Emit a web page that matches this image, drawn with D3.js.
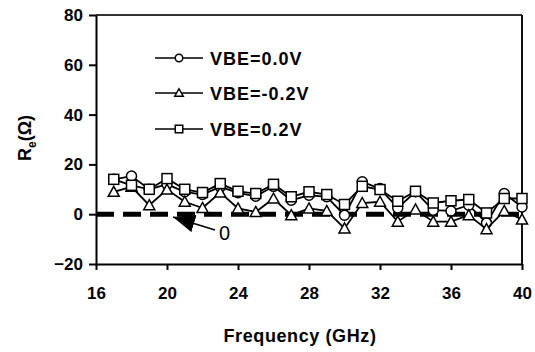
<!DOCTYPE html>
<html>
<head>
<meta charset="utf-8">
<script src="https://cdn.jsdelivr.net/npm/d3@7"></script>
<style>
  body { margin: 0; background: #fff; }
  svg text { font-family: Arial, "Liberation Sans", sans-serif; }
</style>
</head>
<body>
<svg id="chart" width="535" height="352"></svg>
<script>
// frequency points (GHz)
var freq = [17, 18, 19, 20, 21, 22, 23, 24, 25, 26, 27, 28, 29, 30, 31, 32, 33, 34, 35, 36, 37, 38, 39, 40];
// Re (ohm) per bias
var vbe00 = [14, 15.3, 10, 12, 9, 7.9, 11, 8.6, 7.2, 11.2, 5.6, 7.6, 7, -0.4, 13, 10.3, 2.5, 9, 1.6, 1.3, 3.6, -3.5, 8.3, 2.9];
var vbeM02 = [9, 11, 3.6, 9.9, 5, 2.5, 8.7, 2.3, 0.9, 6.3, -0.4, 2.3, 1.3, -5.7, 4.5, 5, -3, 1.9, -3, -3, -0.4, -6, 1.3, -2.1];
var vbe02 = [14, 11.6, 10, 14.3, 10, 8.7, 12.3, 9.2, 8.3, 12, 7, 9, 7.9, 3.9, 11.2, 9.9, 5.2, 9.2, 4.5, 5.4, 5.9, 0.5, 6.3, 6.3];
var seriesNames = ["VBE=0.0V", "VBE=-0.2V", "VBE=0.2V"];
var markerTypes = ["circle", "triangle", "square"];
var xTicks = [16, 20, 24, 28, 32, 36, 40];
var yTicks = [-20, 0, 20, 40, 60, 80];

var svg = d3.select("#chart");
var plotL = 96, plotR = 522, plotT = 15, plotB = 264;

var x = d3.scaleLinear().domain([16, 40]).range([plotL, plotR]);
var y = d3.scaleLinear().domain([-20, 80]).range([plotB, plotT]);

// frame top / right
svg.append("line").attr("x1", plotL).attr("x2", plotR).attr("y1", plotT).attr("y2", plotT)
    .attr("stroke", "#333").attr("stroke-width", 2);
svg.append("line").attr("x1", plotR).attr("x2", plotR).attr("y1", plotT).attr("y2", plotB)
    .attr("stroke", "#111").attr("stroke-width", 2);

// zero dashed line
svg.append("line").attr("x1", plotL).attr("x2", plotR).attr("y1", y(0)).attr("y2", y(0))
    .attr("stroke", "#000").attr("stroke-width", 5).attr("stroke-dasharray", "18,9");

// axes
var xAxis = svg.append("g").attr("transform", "translate(0," + plotB + ")")
    .call(d3.axisBottom(x).tickValues(xTicks).tickSizeInner(6).tickSizeOuter(0).tickPadding(17));
var yAxis = svg.append("g").attr("transform", "translate(" + plotL + ",0)")
    .call(d3.axisLeft(y).tickValues(yTicks).tickSizeInner(7).tickSizeOuter(0).tickPadding(6));
[xAxis, yAxis].forEach(function (g) {
    g.select(".domain").attr("stroke", "#000").attr("stroke-width", 2);
    g.selectAll(".tick line").attr("stroke", "#000").attr("stroke-width", 2);
    g.selectAll(".tick text").attr("fill", "#000").style("font-size", "17px").style("font-weight", "bold")
        .style("font-family", "Arial, 'Liberation Sans', sans-serif");
});

// axis titles
svg.append("text").attr("x", 300).attr("y", 342).attr("text-anchor", "middle")
    .style("font-size", "18px").style("font-weight", "bold").style("letter-spacing", "0.6px").text("Frequency (GHz)");
var yl = svg.append("text").attr("transform", "translate(31,138) rotate(-90)").attr("text-anchor", "middle")
    .style("font-size", "18px").style("font-weight", "bold");
yl.append("tspan").text("R");
yl.append("tspan").attr("dy", 5).style("font-size", "12px").text("e");
yl.append("tspan").attr("dy", -5).text("(Ω)");

// arrow pointing to zero line
svg.append("defs").append("marker").attr("id", "head").attr("viewBox", "0 0 10 10")
    .attr("refX", 10).attr("refY", 5).attr("markerWidth", 22).attr("markerHeight", 18)
    .attr("markerUnits", "userSpaceOnUse").attr("orient", "auto").attr("preserveAspectRatio", "none")
    .append("path").attr("d", "M0,0 L10,5 L0,10 Z").attr("fill", "#000");
svg.append("line").attr("x1", 215).attr("y1", 230).attr("x2", 173).attr("y2", 217)
    .attr("stroke", "#000").attr("stroke-width", 1.5).attr("marker-end", "url(#head)");
svg.append("text").attr("x", 219).attr("y", 240).style("font-size", "20px").text("0");

// series
var allSeries = [vbe00, vbeM02, vbe02];
var line = d3.line().x(function (d, i) { return x(freq[i]); }).y(function (d) { return y(d); });

function drawMarker(g, type, cx, cy, sz) {
    var h = sz / 2;
    if (type == "circle") {
        g.append("circle").attr("cx", cx).attr("cy", cy).attr("r", h)
            .attr("fill", "#fff").attr("stroke", "#000").attr("stroke-width", 1.5);
    } else if (type == "square") {
        g.append("rect").attr("x", cx - h).attr("y", cy - h).attr("width", sz).attr("height", sz)
            .attr("fill", "#fff").attr("stroke", "#000").attr("stroke-width", 1.5);
    } else {
        g.append("path").attr("d", "M" + cx + "," + (cy - h - 0.5) + " L" + (cx + h + 0.5) + "," + (cy + h - 0.5) + " L" + (cx - h - 0.5) + "," + (cy + h - 0.5) + " Z")
            .attr("fill", "#fff").attr("stroke", "#000").attr("stroke-width", 1.5);
    }
}

allSeries.forEach(function (vals, s) {
    var g = svg.append("g");
    g.append("path").datum(vals).attr("d", line).attr("fill", "none")
        .attr("stroke", "#000").attr("stroke-width", 1.8);
    vals.forEach(function (v, i) { drawMarker(g, markerTypes[s], x(freq[i]), y(v), 10); });
});

// legend
var legY = [58, 93, 129];
seriesNames.forEach(function (name, s) {
    var g = svg.append("g");
    g.append("line").attr("x1", 155).attr("x2", 203).attr("y1", legY[s]).attr("y2", legY[s])
        .attr("stroke", "#000").attr("stroke-width", 1.5);
    drawMarker(g, markerTypes[s], 179, legY[s], 7.5);
    g.append("text").attr("x", 210).attr("y", legY[s] + 6.5).style("font-size", "18px")
        .style("font-weight", "bold").style("letter-spacing", "1px").text(name);
});
</script>
</body>
</html>
